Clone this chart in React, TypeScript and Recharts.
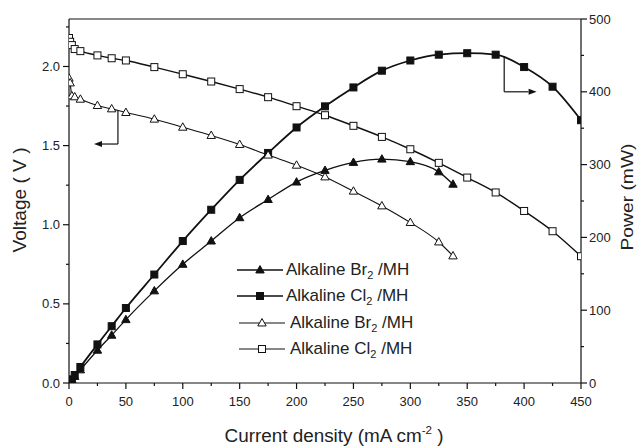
import React from 'react';
import { LineChart, Line, XAxis, YAxis, Legend, ReferenceLine } from 'recharts';

// current density (mA cm-2)
const clCurrent = [0, 1, 2.5, 5, 10, 25, 37.5, 50, 75, 100, 125, 150, 175, 200, 225, 250, 275, 300, 325, 350, 375, 400, 425, 450];
const brCurrent = [0, 1, 2.5, 5, 10, 25, 37.5, 50, 75, 100, 125, 150, 175, 200, 225, 250, 275, 300, 325, 337.5];

// voltage (V)
const clVoltage = [2.18, 2.156, 2.135, 2.11, 2.097, 2.07, 2.052, 2.038, 1.996, 1.951, 1.905, 1.857, 1.806, 1.749, 1.692, 1.625, 1.555, 1.477, 1.391, 1.298, 1.204, 1.087, 0.959, 0.801];
const brVoltage = [1.926, 1.896, 1.814, 1.808, 1.793, 1.753, 1.732, 1.709, 1.667, 1.616, 1.564, 1.507, 1.44, 1.376, 1.302, 1.212, 1.119, 1.014, 0.891, 0.803];

// power (mW)
const clPower = [0, 2, 5, 11, 22, 53, 78, 103, 149, 195, 238, 279, 316, 351, 380, 406, 429, 443, 451, 453, 451, 434, 407, 361];
const brPower = [0, 2, 4.5, 9, 18, 45, 65.6, 87, 126.5, 163, 195, 227, 252, 276, 292, 303, 307.5, 304, 290, 273];

const xTicks = [0, 25, 50, 75, 100, 125, 150, 175, 200, 225, 250, 275, 300, 325, 350, 375, 400, 425, 450];
const voltageTicks = [0, 0.25, 0.5, 0.75, 1, 1.25, 1.5, 1.75, 2, 2.25];
const powerTicks = [0, 50, 100, 150, 200, 250, 300, 350, 400, 450, 500];

const legendNames = ['Br', 'Cl', 'Br', 'Cl'];

const toRows = (xs: number[], ys: number[]) => xs.map((x, i) => ({ x, y: ys[i] }));

const INK = '#111';
const TEXT = '#222';
const FONT = 'Arial, "Liberation Sans", sans-serif';

function marker(shape: string, filled: boolean, cx: number, cy: number, key?: any) {
  const fill = filled ? INK : '#fff';
  if (shape === 'square') {
    const s = 7;
    return <rect key={key} x={cx - s / 2} y={cy - s / 2} width={s} height={s} fill={fill} stroke={INK} strokeWidth={1} />;
  }
  const w = 8.4, h = 7.4;
  const pts = `${cx},${cy - h * 0.6} ${cx - w / 2},${cy + h * 0.4} ${cx + w / 2},${cy + h * 0.4}`;
  return <polygon key={key} points={pts} fill={fill} stroke={INK} strokeWidth={1} />;
}

const dot = (shape: string, filled: boolean) => (props: any) => {
  const { cx, cy, index } = props;
  if (cx == null || cy == null) return <g key={index} />;
  return marker(shape, filled, cx, cy, index);
};

const series = [
  { id: 'brP', rows: toRows(brCurrent, brPower), axis: 'right', shape: 'triangle', filled: true, width: 1.3 },
  { id: 'clP', rows: toRows(clCurrent, clPower), axis: 'right', shape: 'square', filled: true, width: 1.8 },
  { id: 'brV', rows: toRows(brCurrent, brVoltage), axis: 'left', shape: 'triangle', filled: false, width: 1.1 },
  { id: 'clV', rows: toRows(clCurrent, clVoltage), axis: 'left', shape: 'square', filled: false, width: 1.4 },
];

const XTick = (props: any) => {
  const { x, y, payload } = props;
  const major = payload.value % 50 === 0;
  return (
    <g>
      <line x1={x} y1={y} x2={x} y2={y + (major ? 6 : 3)} stroke={INK} strokeWidth={1.2} />
      {major && (
        <text x={x} y={y + 23} textAnchor="middle" fontSize={13} fontFamily={FONT} fill={TEXT}>
          {payload.value}
        </text>
      )}
    </g>
  );
};

const LeftTick = (props: any) => {
  const { x, y, payload } = props;
  const major = Math.abs(payload.value * 2 - Math.round(payload.value * 2)) < 1e-6;
  return (
    <g>
      <line x1={x} y1={y} x2={x - (major ? 6 : 3)} y2={y} stroke={INK} strokeWidth={1.2} />
      {major && (
        <text x={x - 9} y={y + 4.5} textAnchor="end" fontSize={13} fontFamily={FONT} fill={TEXT}>
          {payload.value.toFixed(1)}
        </text>
      )}
    </g>
  );
};

const RightTick = (props: any) => {
  const { x, y, payload } = props;
  const major = payload.value % 100 === 0;
  return (
    <g>
      <line x1={x} y1={y} x2={x + (major ? 6 : 3)} y2={y} stroke={INK} strokeWidth={1.2} />
      {major && (
        <text x={x + 8} y={y + 4.5} textAnchor="start" fontSize={13} fontFamily={FONT} fill={TEXT}>
          {payload.value}
        </text>
      )}
    </g>
  );
};

const ArrowLine = (props: any) => {
  const { x1, y1, x2, y2 } = props;
  const a = Math.atan2(y2 - y1, x2 - x1);
  const L = 8, W = 3;
  const bx = x2 - L * Math.cos(a), by = y2 - L * Math.sin(a);
  const pts = `${x2},${y2} ${bx + W * Math.sin(a)},${by - W * Math.cos(a)} ${bx - W * Math.sin(a)},${by + W * Math.cos(a)}`;
  return (
    <g>
      <line x1={x1} y1={y1} x2={bx} y2={by} stroke={INK} strokeWidth={1.2} />
      <polygon points={pts} fill={INK} />
    </g>
  );
};

const PlainLine = (props: any) => (
  <line x1={props.x1} y1={props.y1} x2={props.x2} y2={props.y2} stroke={INK} strokeWidth={1.2} />
);

const renderLegend = () => (
  <div style={{ fontFamily: FONT, fontSize: 17, color: TEXT }}>
    {series.map((s, i) => (
      <div key={s.id} style={{ display: 'flex', alignItems: 'center', height: 26.3 }}>
        <svg width={50} height={16} style={{ marginLeft: s.filled ? 0 : 2 }}>
          <line x1={1} y1={8} x2={47} y2={8} stroke={INK} strokeWidth={s.filled ? 1.5 : 1.1} />
          {marker(s.shape, s.filled, 24, 8)}
        </svg>
        <span style={{ marginLeft: s.filled ? 0 : 2, whiteSpace: 'nowrap', lineHeight: '20px' }}>
          Alkaline {legendNames[i]}
          <sub style={{ fontSize: 11, lineHeight: 0 }}>2</sub> /MH
        </span>
      </div>
    ))}
  </div>
);

const XTitle = (props: any) => {
  const vb = props.viewBox;
  return (
    <text x={vb.x + vb.width / 2 + 9} y={vb.y + 59} textAnchor="middle" fontSize={18} fontFamily={FONT} fill={TEXT}
      textLength={219} lengthAdjust="spacingAndGlyphs">
      Current density (mA cm<tspan dy={-8} fontSize={11}>-2</tspan><tspan dy={8}> )</tspan>
    </text>
  );
};

const LeftTitle = () => (
  <text x={20} y={200} transform="rotate(-90, 20, 200)" textAnchor="middle" dominantBaseline="central"
    fontSize={18} fontFamily={FONT} fill={TEXT} textLength={105} lengthAdjust="spacingAndGlyphs">
    Voltage ( V )
  </text>
);

const RightTitle = () => (
  <text x={627} y={197} transform="rotate(-90, 627, 197)" textAnchor="middle" dominantBaseline="central"
    fontSize={17} fontFamily={FONT} fill={TEXT} textLength={107} lengthAdjust="spacingAndGlyphs">
    Power (mW)
  </text>
);

export default function App() {
  return (
    <div style={{ position: 'absolute', left: 0, top: 0, background: '#fff' }}>
      <LineChart width={637} height={446} margin={{ top: 19, right: 0, bottom: 0, left: 0 }}>
        <XAxis dataKey="x" type="number" domain={[0, 450]} ticks={xTicks} interval={0} tickSize={0} tickMargin={0}
          tick={<XTick />} height={63} axisLine={{ stroke: INK, strokeWidth: 1.2 }} label={<XTitle />} allowDataOverflow />
        <YAxis yAxisId="left" type="number" domain={[0, 2.3]} ticks={voltageTicks} interval={0} tickSize={0} tickMargin={0}
          tick={<LeftTick />} width={69} axisLine={{ stroke: INK, strokeWidth: 1.2 }} label={<LeftTitle />} allowDataOverflow />
        <YAxis yAxisId="right" orientation="right" type="number" domain={[0, 500]} ticks={powerTicks} interval={0} tickSize={0}
          tickMargin={0} tick={<RightTick />} width={56} axisLine={{ stroke: INK, strokeWidth: 1.2 }} label={<RightTitle />}
          allowDataOverflow />
        <ReferenceLine yAxisId="left" y={2.3} stroke={INK} strokeWidth={1.2} />
        {series.map((s) => (
          <Line key={s.id} data={s.rows} dataKey="y" yAxisId={s.axis} type="monotone" stroke={INK} strokeWidth={s.width}
            dot={dot(s.shape, s.filled)} activeDot={false} isAnimationActive={false} />
        ))}
        <ReferenceLine yAxisId="left" segment={[{ x: 43, y: 1.72 }, { x: 43, y: 1.51 }]} shape={<PlainLine />} />
        <ReferenceLine yAxisId="left" segment={[{ x: 43, y: 1.51 }, { x: 22, y: 1.51 }]} shape={<ArrowLine />} />
        <ReferenceLine yAxisId="right" segment={[{ x: 382.5, y: 448 }, { x: 382.5, y: 400 }]} shape={<PlainLine />} />
        <ReferenceLine yAxisId="right" segment={[{ x: 382.5, y: 400 }, { x: 411, y: 400 }]} shape={<ArrowLine />} />
        <Legend layout="vertical" align="center" verticalAlign="middle" content={renderLegend}
          wrapperStyle={{ position: 'absolute', left: 236, top: 257, width: 230, height: 106 }} />
      </LineChart>
    </div>
  );
}
